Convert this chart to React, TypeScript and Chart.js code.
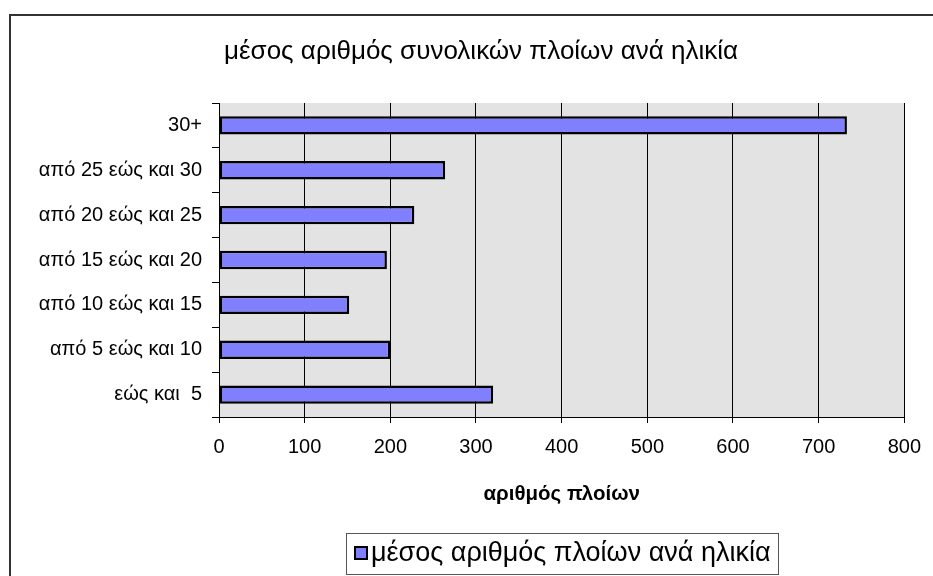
import React, { useEffect, useRef } from "react";
import { Chart, registerables } from "chart.js";

Chart.register(...registerables);

const chartTitle = "μέσος αριθμός συνολικών πλοίων ανά ηλικία";
const axisTitle = "αριθμός πλοίων";
const seriesName = "μέσος αριθμός πλοίων ανά ηλικία";

// Age groups, oldest first (top of the chart)
const ageGroups = [
  "30+",
  "από 25 εώς και 30",
  "από 20 εώς και 25",
  "από 15 εώς και 20",
  "από 10 εώς και 15",
  "από 5 εώς και 10",
  "εώς και  5",
];
const avgShips = [733, 264, 228, 196, 152, 200, 320];

const xMin = 0;
const xMax = 800;
const xStep = 100;

const FONT = "'Liberation Sans', Arial, sans-serif";
const BAR_FILL = "#8080FF";
const PLOT_BG = "#E3E3E3";

const framePlugin = {
  id: "frame",
  beforeDraw(chart: any) {
    const { ctx, chartArea } = chart;
    ctx.save();
    ctx.fillStyle = "#ffffff";
    ctx.fillRect(0, 0, chart.width, chart.height);
    // outer frame (open on the right and bottom)
    ctx.strokeStyle = "#333333";
    ctx.lineWidth = 2;
    ctx.beginPath();
    ctx.moveTo(10, chart.height + 2);
    ctx.lineTo(10, 15);
    ctx.lineTo(chart.width + 2, 15);
    ctx.stroke();
    // plot background
    ctx.fillStyle = PLOT_BG;
    ctx.fillRect(
      chartArea.left,
      chartArea.top,
      chartArea.right - chartArea.left,
      chartArea.bottom - chartArea.top
    );
    ctx.restore();
  },
  afterDraw(chart: any) {
    const { ctx, chartArea } = chart;
    ctx.save();
    // title
    ctx.fillStyle = "#000";
    ctx.textAlign = "center";
    ctx.textBaseline = "middle";
    ctx.font = `26px ${FONT}`;
    ctx.fillText(chartTitle, 481, 52, 520);
    // axis title
    ctx.font = `bold 20.5px ${FONT}`;
    ctx.fillText(axisTitle, (chartArea.left + chartArea.right) / 2, 494);
    // legend box
    const lx = 346.5, ly = 533.5, lw = 432, lh = 41;
    ctx.strokeStyle = "#555";
    ctx.lineWidth = 1;
    ctx.fillStyle = "#fff";
    ctx.fillRect(lx, ly, lw, lh);
    ctx.strokeRect(lx, ly, lw, lh);
    ctx.fillStyle = BAR_FILL;
    ctx.fillRect(355, 547, 12, 12);
    ctx.strokeStyle = "#000";
    ctx.lineWidth = 2;
    ctx.strokeRect(355, 547, 12, 12);
    ctx.fillStyle = "#000";
    ctx.textAlign = "left";
    ctx.font = `27px ${FONT}`;
    ctx.fillText(seriesName, 371, 554, 404);
    ctx.restore();
  },
};

export default function App() {
  const ref = useRef<HTMLCanvasElement | null>(null);
  useEffect(() => {
    if (!ref.current) return;
    const chart = new Chart(ref.current, {
      type: "bar",
      data: {
        labels: ageGroups,
        datasets: [
          {
            label: seriesName,
            data: avgShips,
            backgroundColor: BAR_FILL,
            borderColor: "#000",
            borderWidth: 2.5,
            borderSkipped: false,
            categoryPercentage: 1,
            barPercentage: 0.41,
          },
        ],
      },
      options: {
        indexAxis: "y",
        animation: false,
        responsive: false,
        layout: { padding: { left: 10, right: 26, top: 103, bottom: 0 } },
        plugins: {
          legend: { display: false },
          title: { display: false },
          tooltip: { enabled: false },
        },
        scales: {
          x: {
            min: xMin,
            max: xMax,
            ticks: {
              stepSize: xStep,
              color: "#000",
              font: { family: FONT, size: 20 },
              padding: 12,
            },
            grid: {
              color: "#000",
              lineWidth: 1,
              tickLength: 6,
              drawOnChartArea: true,
            },
            border: { color: "#000", width: 1 },
            afterFit: (s: any) => {
              s.height = 159;
            },
          },
          y: {
            ticks: {
              color: "#000",
              font: { family: FONT, size: 20 },
              padding: 10,
            },
            grid: {
              color: "#000",
              tickLength: 7,
              drawOnChartArea: false,
              offset: true,
            },
            border: { color: "#000", width: 1 },
            afterFit: (s: any) => {
              s.width = 209;
            },
          },
        },
      },
      plugins: [framePlugin],
    });
    return () => chart.destroy();
  }, []);
  return (
    <div style={{ position: "fixed", left: 0, top: 0, width: 933, height: 576 }}>
      <canvas ref={ref} width={933} height={576} style={{ display: "block" }} />
    </div>
  );
}
